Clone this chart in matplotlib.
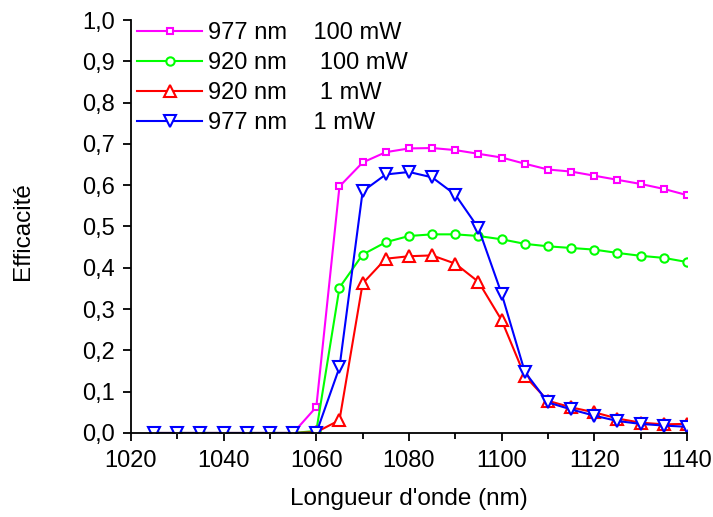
import matplotlib
matplotlib.use('Agg')
import matplotlib.pyplot as plt
from matplotlib.ticker import MultipleLocator

plt.rcParams['font.family'] = ['Liberation Sans', 'DejaVu Sans']

# longueurs d'onde (nm)
wavelength = [1025, 1030, 1035, 1040, 1045, 1050, 1055, 1060, 1065, 1070, 1075, 1080,
              1085, 1090, 1095, 1100, 1105, 1110, 1115, 1120, 1125, 1130, 1135, 1140]

eff_977_100 = [0, 0, 0, 0, 0, 0, 0, 0.063, 0.597, 0.655, 0.680, 0.689,
               0.690, 0.685, 0.676, 0.667, 0.652, 0.638, 0.633, 0.623, 0.613, 0.603, 0.591, 0.576]
eff_920_100 = [0, 0, 0, 0, 0, 0, 0, 0.005, 0.352, 0.432, 0.462, 0.477,
               0.481, 0.481, 0.477, 0.469, 0.458, 0.452, 0.448, 0.444, 0.436, 0.429, 0.424, 0.414]
eff_920_1 = [0, 0, 0, 0, 0, 0, 0, 0.002, 0.031, 0.362, 0.422, 0.428,
             0.430, 0.410, 0.366, 0.273, 0.138, 0.078, 0.062, 0.050, 0.035, 0.025, 0.021, 0.022]
eff_977_1 = [0, 0, 0, 0, 0, 0, 0, 0, 0.159, 0.585, 0.626, 0.632,
             0.619, 0.577, 0.496, 0.337, 0.148, 0.074, 0.057, 0.042, 0.029, 0.022, 0.018, 0.015]

labels = ['977 nm    100 mW', '920 nm     100 mW', '920 nm     1 mW', '977 nm    1 mW']

y_ticks = [0.0, 0.1, 0.2, 0.3, 0.4, 0.5, 0.6, 0.7, 0.8, 0.9, 1.0]
y_tick_labels = ['0,0', '0,1', '0,2', '0,3', '0,4', '0,5', '0,6', '0,7', '0,8', '0,9', '1,0']
x_ticks = [1020, 1040, 1060, 1080, 1100, 1120, 1140]

fig = plt.figure(figsize=(7.13, 5.17), dpi=100)
ax = fig.add_axes([0.1837, 0.1625, 0.7798, 0.7988])

ax.plot(wavelength, eff_977_100, color='#ff00ff', marker='s', ms=5, mfc='white', mew=1.5, lw=1.5, label=labels[0])
ax.plot(wavelength, eff_920_100, color='#00ff00', marker='o', ms=6, mfc='white', mew=1.5, lw=1.5, label=labels[1])
ax.plot(wavelength, eff_920_1, color='#ff0000', marker='^', ms=8, mfc='white', mew=1.5, lw=1.5, label=labels[2])
ax.plot(wavelength, eff_977_1, color='#0000ff', marker='v', ms=8, mfc='white', mew=1.5, lw=1.5, label=labels[3])

ax.set_xlim(1020, 1140)
ax.set_ylim(0, 1.0)
ax.set_xticks(x_ticks)
ax.xaxis.set_minor_locator(MultipleLocator(10))
ax.set_yticks(y_ticks)
ax.set_yticklabels(y_tick_labels)

ax.spines['top'].set_visible(False)
ax.spines['right'].set_visible(False)
for s in ['left', 'bottom']:
    ax.spines[s].set_linewidth(1.3)
ax.tick_params(which='major', length=6, width=1.3, labelsize=17, direction='out')
ax.tick_params(which='minor', length=4, width=1.3, direction='out')
ax.tick_params(axis='x', which='major', pad=6.5)
ax.tick_params(axis='y', which='major', pad=5.5)

ax.set_xlabel("Longueur d'onde (nm)", fontsize=17.5)
ax.set_ylabel('Efficacité', fontsize=17.5)
ax.xaxis.set_label_coords(0.5, -0.133)
ax.yaxis.set_label_coords(-0.175, 0.49)

ax.legend(loc='upper left', bbox_to_anchor=(0.011, 0.994), frameon=False, fontsize=17,
          handlelength=2.75, handletextpad=0.25, labelspacing=0.33, borderaxespad=0, borderpad=0)

plt.savefig('out.png', dpi=100)
